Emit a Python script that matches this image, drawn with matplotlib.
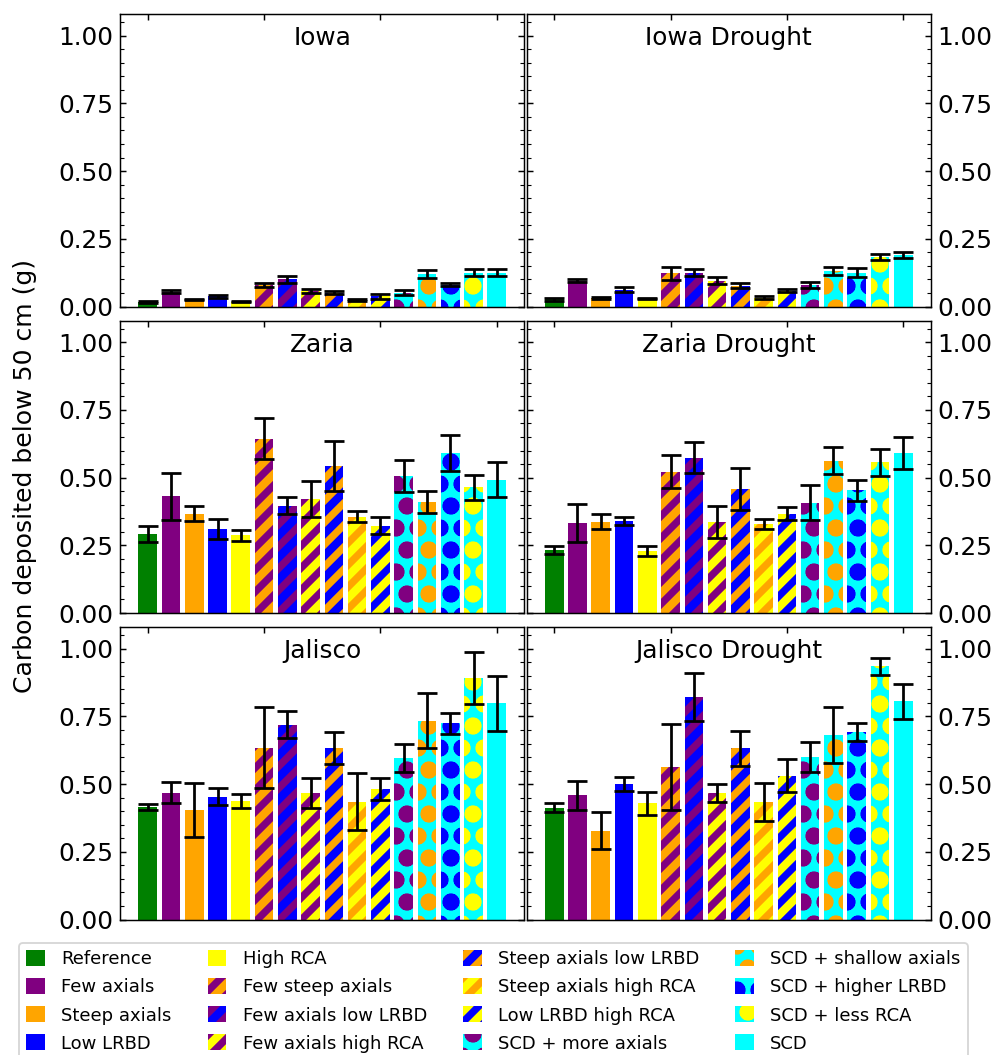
import matplotlib
matplotlib.use("Agg")
import matplotlib.pyplot as plt
import numpy as np
from matplotlib.ticker import MultipleLocator, AutoMinorLocator

# Root architecture scenarios
scenarios = [
    "Reference", "Few axials", "Steep axials", "Low LRBD", "High RCA",
    "Few steep axials", "Few axials low LRBD", "Few axials high RCA",
    "Steep axials low LRBD", "Steep axials high RCA", "Low LRBD high RCA",
    "SCD + more axials", "SCD + shallow axials", "SCD + higher LRBD",
    "SCD + less RCA", "SCD",
]

# Face colour and hatch colour for every scenario
face_colors = [
    "green", "purple", "orange", "blue", "yellow",
    "purple", "purple", "purple", "orange", "orange", "blue",
    "cyan", "cyan", "cyan", "cyan", "cyan",
]
hatch_colors = [
    "green", "purple", "orange", "blue", "yellow",
    "orange", "blue", "yellow", "blue", "yellow", "yellow",
    "purple", "orange", "blue", "yellow", "cyan",
]
hatches = [
    None, None, None, None, None,
    "//", "//", "//", "//", "//", "//",
    "o", "o", "o", "o", None,
]

panel_titles = ["Iowa", "Iowa Drought", "Zaria", "Zaria Drought",
                "Jalisco", "Jalisco Drought"]

# Mean carbon deposited below 50 cm (g) and its error
iowa_mean = [0.016, 0.055, 0.026, 0.037, 0.017, 0.078, 0.100, 0.056,
             0.051, 0.025, 0.037, 0.051, 0.120, 0.081, 0.125, 0.125]
iowa_err = [0.003, 0.006, 0.003, 0.005, 0.002, 0.007, 0.014, 0.007,
            0.006, 0.004, 0.008, 0.009, 0.015, 0.006, 0.014, 0.014]

iowa_drought_mean = [0.026, 0.096, 0.031, 0.062, 0.028, 0.122, 0.125, 0.096,
                     0.077, 0.032, 0.059, 0.080, 0.132, 0.125, 0.184, 0.190]
iowa_drought_err = [0.006, 0.005, 0.004, 0.010, 0.002, 0.024, 0.012, 0.013,
                    0.010, 0.005, 0.007, 0.011, 0.014, 0.017, 0.011, 0.010]

zaria_mean = [0.292, 0.431, 0.367, 0.312, 0.287, 0.644, 0.397, 0.420,
              0.542, 0.356, 0.323, 0.505, 0.411, 0.592, 0.465, 0.493]
zaria_err = [0.028, 0.086, 0.028, 0.037, 0.020, 0.077, 0.030, 0.067,
             0.093, 0.021, 0.033, 0.059, 0.041, 0.066, 0.046, 0.063]

zaria_drought_mean = [0.234, 0.332, 0.337, 0.340, 0.228, 0.522, 0.574, 0.337,
                      0.458, 0.330, 0.367, 0.408, 0.562, 0.453, 0.556, 0.590]
zaria_drought_err = [0.015, 0.069, 0.028, 0.016, 0.019, 0.062, 0.058, 0.059,
                     0.077, 0.018, 0.025, 0.063, 0.050, 0.039, 0.050, 0.060]

jalisco_mean = [0.416, 0.469, 0.404, 0.454, 0.437, 0.634, 0.719, 0.468,
                0.634, 0.435, 0.482, 0.597, 0.734, 0.724, 0.892, 0.798]
jalisco_err = [0.011, 0.039, 0.101, 0.031, 0.026, 0.149, 0.050, 0.055,
               0.058, 0.105, 0.039, 0.052, 0.101, 0.040, 0.097, 0.101]

jalisco_drought_mean = [0.413, 0.459, 0.328, 0.500, 0.429, 0.563, 0.822, 0.467,
                        0.632, 0.435, 0.531, 0.600, 0.681, 0.693, 0.935, 0.806]
jalisco_drought_err = [0.017, 0.053, 0.069, 0.026, 0.042, 0.159, 0.089, 0.034,
                       0.065, 0.070, 0.060, 0.056, 0.102, 0.034, 0.031, 0.064]

means = [iowa_mean, iowa_drought_mean, zaria_mean, zaria_drought_mean,
         jalisco_mean, jalisco_drought_mean]
errors = [iowa_err, iowa_drought_err, zaria_err, zaria_drought_err,
          jalisco_err, jalisco_drought_err]

DPI = 132
plt.rcParams["hatch.linewidth"] = 4.5
plt.rcParams["font.family"] = "DejaVu Sans"

fig, axes = plt.subplots(3, 2, figsize=(996 / DPI, 1055 / DPI), dpi=DPI)
fig.subplots_adjust(left=0.1205, right=0.9347, top=0.9867, bottom=0.1284,
                    wspace=0.005, hspace=0.048)

x = np.arange(len(scenarios))
for k, ax in enumerate(axes.flat):
    for i in range(len(scenarios)):
        ax.bar(x[i], means[k][i], width=0.8, color=face_colors[i],
               edgecolor=hatch_colors[i], linewidth=0, hatch=hatches[i],
               label=scenarios[i] if k == 0 else None, zorder=2)
    ax.errorbar(x, means[k], yerr=errors[k], fmt="none", ecolor="black",
                elinewidth=1.5, capsize=5.5, capthick=1.5, zorder=3)
    ax.set_ylim(0, 1.08)
    ax.yaxis.set_major_locator(MultipleLocator(0.25))
    ax.yaxis.set_minor_locator(AutoMinorLocator(5))
    ax.yaxis.set_major_formatter(plt.FormatStrFormatter("%.2f"))
    ax.set_xticks([0, 5, 10, 15])
    ax.tick_params(axis="x", which="both", direction="in", top=True,
                   bottom=False, labeltop=False, labelbottom=False)
    right_col = (k % 2 == 1)
    ax.tick_params(axis="y", which="both", direction="in", left=True,
                   right=True, labelleft=not right_col, labelright=right_col,
                   labelsize=13.5)
    ax.text(0.5, 0.894, panel_titles[k], transform=ax.transAxes,
            ha="center", va="baseline", fontsize=13.5)

fig.text(0.025, (1 - 476 / 1055), "Carbon deposited below 50 cm (g)",
         rotation=90, ha="center", va="center", fontsize=13.7)

handles, labels = axes[0, 0].get_legend_handles_labels()
fig.legend(handles, labels, ncol=4, loc="upper left",
           bbox_to_anchor=(19 / 996, 1 - 943 / 1055), borderaxespad=0,
           fontsize=9.8, handlelength=1.05, handleheight=1.0,
           handletextpad=0.9, labelspacing=0.55, columnspacing=2.0,
           borderpad=0.4)

fig.savefig("out.png", dpi=DPI)
